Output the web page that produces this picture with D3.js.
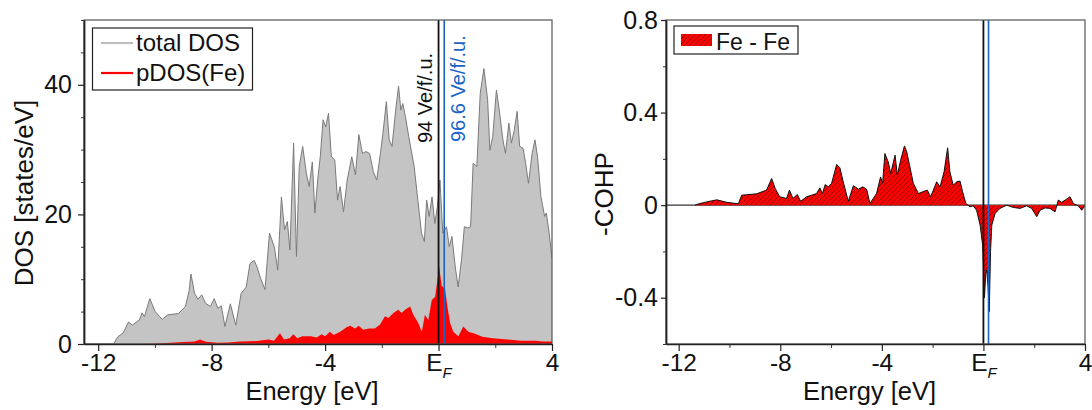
<!DOCTYPE html>
<html><head><meta charset="utf-8">
<script src="https://cdn.jsdelivr.net/npm/d3@7"></script>
<style>
body{margin:0;background:#fff;}
svg{display:block;font-family:"Liberation Sans",Arial,sans-serif;}
</style></head>
<body><svg id="c" width="1092" height="410"></svg>
<script>
// ---------- data ----------
const dosEnergy = [-12.5,-11.46,-11.31,-11.12,-10.93,-10.8,-10.55,-10.45,-10.37,-10.18,-9.99,-9.74,-9.55,-9.17,-8.92,-8.79,-8.73,-8.6,-8.48,-8.35,-8.22,-8.04,-7.91,-7.78,-7.66,-7.53,-7.34,-7.15,-6.96,-6.78,-6.65,-6.5,-6.4,-6.27,-6.12,-5.96,-5.79,-5.67,-5.54,-5.43,-5.33,-5.24,-5.11,-5.01,-4.91,-4.79,-4.66,-4.56,-4.45,-4.36,-4.26,-4.17,-4.07,-3.98,-3.88,-3.78,-3.66,-3.56,-3.47,-3.35,-3.22,-3.06,-2.93,-2.81,-2.68,-2.56,-2.43,-2.3,-2.18,-2.05,-1.96,-1.84,-1.74,-1.64,-1.51,-1.41,-1.33,-1.26,-1.17,-1.05,-0.86,-0.73,-0.6,-0.5,-0.42,-0.33,-0.23,-0.13,-0.04,0.05,0.15,0.28,0.38,0.47,0.59,0.69,0.81,0.91,1.03,1.13,1.22,1.35,1.47,1.6,1.73,1.81,1.91,2.04,2.14,2.27,2.36,2.48,2.57,2.67,2.77,2.86,2.98,3.07,3.17,3.3,3.4,3.49,3.61,3.74,3.8,3.9,4.0];
const totalDOS = [0,0,1.1,1.7,3.4,2.9,3.7,4.8,4.2,7.0,5.0,3.8,4.5,4.7,5.8,8.3,10.8,7.8,6.9,7.6,6.3,5.8,7.0,5.5,5.9,2.7,6.2,2.9,7.8,8.8,12.4,12.9,11.9,10.1,8.4,17.1,15.0,11.4,22.7,17.6,18.9,14.5,31.0,13.5,27.4,30.5,26.3,24.3,28.1,20.2,25.3,28.9,34.6,33.5,35.6,28.9,28.4,22.2,24.3,20.4,25.3,28.9,26.1,32.3,29.4,29.7,29.4,26.6,25.3,29.4,32.5,37.4,31.5,30.5,36.1,39.8,36.1,37.1,35.1,32.0,27.4,22.2,17.1,15.8,22.2,19.7,22.7,18.6,21.2,25.3,17.1,18.1,15.0,16.6,11.9,8.8,13.0,18.1,17.9,18.1,27.9,27.4,38.7,42.5,37.7,29.9,32.0,39.2,36.1,31.5,29.4,34.1,31.0,33.0,35.9,30.5,30.2,27.9,24.8,29.4,31.5,28.9,22.7,19.7,20.2,17.1,13.2];

const pdosEnergy = [-12.5,-10.6,-10.0,-9.6,-9.0,-8.6,-8.41,-8.2,-7.8,-7.4,-7.0,-6.4,-6.0,-5.8,-5.59,-5.45,-5.25,-5.12,-4.98,-4.8,-4.5,-4.3,-4.12,-4.0,-3.83,-3.7,-3.47,-3.24,-3.12,-2.94,-2.82,-2.65,-2.45,-2.25,-2.06,-1.89,-1.77,-1.59,-1.42,-1.3,-1.18,-1.0,-0.89,-0.71,-0.59,-0.48,-0.36,-0.24,-0.12,-0.04,0.02,0.11,0.23,0.31,0.41,0.52,0.7,0.87,1.05,1.29,1.54,1.91,2.42,2.92,3.43,3.68,4.0];
const pdosFe = [0,0,0.05,0.15,0.3,0.4,0.7,0.35,0.2,0.25,0.4,0.45,0.7,0.5,1.65,0.7,0.9,1.5,0.9,1.2,1.2,1.0,1.5,1.2,1.9,1.4,1.9,2.6,2.8,2.4,2.8,2.2,2.4,2.4,3.0,4.3,4.0,4.8,5.3,4.8,5.3,5.8,4.5,3.2,1.9,4.5,3.7,6.8,7.3,9.9,12.0,9.0,8.5,5.8,3.2,1.9,1.2,2.7,1.9,1.6,1.1,0.9,0.7,0.5,0.5,0.4,0.4];

const cohpEnergy = [-11.36,-11.2,-10.9,-10.5,-10.1,-9.65,-9.52,-8.93,-8.54,-8.34,-8.2,-8.02,-7.75,-7.64,-7.5,-7.33,-7.2,-6.96,-6.57,-6.44,-6.34,-6.23,-6.11,-5.98,-5.78,-5.65,-5.52,-5.32,-5.12,-4.92,-4.75,-4.6,-4.47,-4.21,-4.05,-3.97,-3.88,-3.75,-3.65,-3.48,-3.39,-3.26,-3.11,-3.02,-2.91,-2.76,-2.56,-2.39,-2.21,-2.08,-1.84,-1.71,-1.55,-1.41,-1.32,-1.19,-1.05,-0.92,-0.82,-0.69,-0.53,-0.4,-0.27,-0.13,-0.03,0.04,0.09,0.13,0.18,0.23,0.28,0.33,0.46,0.65,0.92,1.18,1.44,1.7,1.9,2.1,2.23,2.43,2.62,2.82,2.95,3.08,3.22,3.41,3.54,3.74,3.87,4.0];
const cohpFeFe = [0,0.006,0.014,0.023,0.012,0.006,0.043,0.049,0.065,0.115,0.072,0.036,0.029,0.065,0.029,0.046,0.017,0.036,0.05,0.075,0.05,0.089,0.079,0.094,0.176,0.161,0.1,0.017,0.084,0.069,0.079,0.069,0.007,0.05,0.122,0.094,0.223,0.187,0.137,0.216,0.13,0.194,0.256,0.23,0.173,0.094,0.05,0.058,0.065,0.036,0.101,0.079,0.144,0.248,0.144,0.086,0.101,0.104,0.058,0.007,-0.007,-0.003,-0.022,-0.086,-0.173,-0.40,-0.30,-0.28,-0.35,-0.46,-0.2,-0.086,-0.036,-0.014,0,-0.01,-0.014,-0.003,-0.014,-0.05,-0.022,-0.012,-0.014,-0.029,0.022,0.012,0.022,0.036,0.007,-0.003,-0.022,-0.003];

const energyTicks = [-12,-8,-4,0,4];
const energyTickLabels = ["-12","-8","-4","E","4"];
const energyMinorTicks = [-10,-6,-2,2];
const dosTicks = [0,20,40];
const dosTickLabels = ["0","20","40"];
const dosMinorTicks = [5,10,15,25,30,35,45,50];
const cohpTicks = [-0.4,0,0.4,0.8];
const cohpTickLabels = ["-0.4","0","0.4","0.8"];
const cohpMinorTicks = [-0.6,-0.2,0.2,0.6];
const fermiLines = [0, 0.2];           // black: 94 Ve/f.u., blue: 96.6 Ve/f.u.
const fermiLabels = ["94 Ve/f/.u.", "96.6 Ve/f/.u."];
const legendDOS = ["total DOS", "pDOS(Fe)"];
const legendCOHP = ["Fe - Fe"];

// ---------- drawing ----------
const svg = d3.select("#c");
const BLACK = "#111", BLUE = "#1a64c8", GREYF = "#c4c4c4", GREYL = "#7a7a7a", RED = "#ff0000";
const FONT = "Liberation Sans, Arial, sans-serif";

const defs = svg.append("defs");
const pat = defs.append("pattern").attr("id","hatch").attr("patternUnits","userSpaceOnUse")
  .attr("width",5).attr("height",5);
pat.append("rect").attr("width",5).attr("height",5).attr("fill",RED);
pat.append("path").attr("d","M0,5L5,0M-1,1L1,-1M4,6L6,4").attr("stroke","#5a0000").attr("stroke-width",0.6);

function xTickLabel(sel){
  sel.selectAll(".tick text").each(function(d){
    const t = d3.select(this);
    if(d===0){
      t.text(null);
      t.append("tspan").text("E");
      t.append("tspan").attr("font-size",15).attr("font-style","italic").attr("dy","0.45em").text("F");
    }
  });
}

function panel(opts){
  const g = svg.append("g");
  const x = d3.scaleLinear().domain([-12.5,4]).range([opts.x0,opts.x1]);
  const y = d3.scaleLinear().domain(opts.ydom).range([opts.y1,opts.y0]);
  const cid = "clip"+opts.id;
  defs.append("clipPath").attr("id",cid).append("rect")
    .attr("x",opts.x0).attr("y",opts.y0).attr("width",opts.x1-opts.x0).attr("height",opts.y1-opts.y0);
  const plot = g.append("g").attr("clip-path",`url(#${cid})`);
  return {g,x,y,plot};
}

function axes(p, opts){
  const {g,x,y} = p;
  g.append("rect").attr("x",opts.x0).attr("y",opts.y0).attr("width",opts.x1-opts.x0).attr("height",opts.y1-opts.y0)
    .attr("fill","none").attr("stroke","#555").attr("stroke-width",1.2);
  g.append("g").attr("transform",`translate(0,${opts.y1})`)
    .call(d3.axisBottom(x).tickValues(energyMinorTicks).tickSize(4).tickSizeOuter(0).tickFormat(""))
    .call(s=>s.select(".domain").remove())
    .call(s=>s.selectAll("line").attr("stroke","#333"));
  const xa = g.append("g").attr("transform",`translate(0,${opts.y1})`)
    .call(d3.axisBottom(x).tickValues(energyTicks).tickSize(7).tickSizeOuter(0).tickPadding(3)
      .tickFormat((d,i)=>energyTickLabels[i]));
  xa.select(".domain").attr("stroke","#222").attr("stroke-width",1.5);
  xa.selectAll("line").attr("stroke","#222").attr("stroke-width",1.2);
  xa.selectAll("text").attr("font-size",24.5).attr("fill",BLACK).attr("font-family",FONT);
  xa.call(xTickLabel);
  g.append("g").attr("transform",`translate(${opts.x0},0)`)
    .call(d3.axisLeft(y).tickValues(opts.yminor).tickSize(3).tickSizeOuter(0).tickFormat(""))
    .call(s=>s.select(".domain").remove())
    .call(s=>s.selectAll("line").attr("stroke","#333"));
  const ya = g.append("g").attr("transform",`translate(${opts.x0},0)`)
    .call(d3.axisLeft(y).tickValues(opts.ymajor).tickSize(opts.ytick).tickSizeOuter(0).tickPadding(opts.ypad)
      .tickFormat((d,i)=>opts.ylabels[i]));
  ya.select(".domain").attr("stroke","#222").attr("stroke-width",1.8);
  ya.selectAll("line").attr("stroke","#222").attr("stroke-width",1.2);
  ya.selectAll("text").attr("font-size",25).attr("fill",BLACK).attr("font-family",FONT);
  g.append("text").attr("x",(opts.x0+opts.x1)/2 - 6).attr("y",400).attr("text-anchor","middle")
    .attr("font-size",25.5).attr("fill",BLACK).text("Energy [eV]");
  g.append("text").attr("transform",`translate(${opts.ytx},${opts.yty}) rotate(-90)`).attr("text-anchor","middle")
    .attr("font-size",26).attr("fill",BLACK).text(opts.ytitle);
}

// ----- left panel: DOS -----
const L = {id:"L",x0:84,x1:552,y0:20,y1:344,ydom:[0,50]};
const pL = panel(L);
const dosPts = dosEnergy.map((e,i)=>[e,totalDOS[i]]);
const pdosPts = pdosEnergy.map((e,i)=>[e,pdosFe[i]]);
pL.plot.append("path").datum(dosPts)
  .attr("d",d3.area().x(d=>pL.x(d[0])).y0(pL.y(0)).y1(d=>pL.y(d[1])))
  .attr("fill",GREYF);
pL.plot.append("path").datum(dosPts)
  .attr("d",d3.line().x(d=>pL.x(d[0])).y(d=>pL.y(d[1])))
  .attr("fill","none").attr("stroke",GREYL).attr("stroke-width",1);
pL.plot.append("path").datum(pdosPts)
  .attr("d",d3.area().x(d=>pL.x(d[0])).y0(pL.y(0)).y1(d=>pL.y(d[1])))
  .attr("fill",RED);
fermiLines.forEach((e,i)=>{
  pL.plot.append("line").attr("x1",pL.x(e)).attr("x2",pL.x(e)).attr("y1",L.y0).attr("y2",L.y1)
    .attr("stroke",i===0?BLACK:BLUE).attr("stroke-width",i===0?1.8:1.6);
});
pL.g.append("text").attr("transform",`translate(${pL.x(fermiLines[0])-7},143) rotate(-90)`)
  .attr("font-size",20).attr("fill",BLACK).text(fermiLabels[0]);
pL.g.append("text").attr("transform",`translate(${pL.x(fermiLines[1])+21},142) rotate(-90)`)
  .attr("font-size",20).attr("fill",BLUE).text(fermiLabels[1]);
axes(pL,{...L,ymajor:dosTicks,ylabels:dosTickLabels,yminor:dosMinorTicks,ytick:6,ypad:6,ytx:33,yty:193,ytitle:"DOS [states/eV]"});
const lg = pL.g.append("g");
lg.append("rect").attr("x",92.5).attr("y",28).attr("width",160).attr("height",62)
  .attr("fill","#fff").attr("stroke","#222").attr("stroke-width",1.2);
[["#bdbdbd",43,51],[RED,73,81]].forEach((c,i)=>{
  lg.append("line").attr("x1",101).attr("x2",133).attr("y1",c[1]).attr("y2",c[1]).attr("stroke",c[0]).attr("stroke-width",2.2);
  lg.append("text").attr("x",136).attr("y",c[2]).attr("font-size",24).attr("fill",BLACK).text(legendDOS[i]);
});

// ----- right panel: COHP -----
const R = {id:"R",x0:666,x1:1085,y0:20,y1:344,ydom:[-0.6,0.8]};
const pR = panel(R);
const cohpPts = cohpEnergy.map((e,i)=>[e,cohpFeFe[i]]);
pR.plot.append("line").attr("x1",R.x0).attr("x2",R.x1).attr("y1",pR.y(0)).attr("y2",pR.y(0))
  .attr("stroke","#333").attr("stroke-width",1.3);
pR.plot.append("path").datum(cohpPts)
  .attr("d",d3.area().x(d=>pR.x(d[0])).y0(pR.y(0)).y1(d=>pR.y(d[1])))
  .attr("fill","url(#hatch)");
pR.plot.append("path").datum(cohpPts)
  .attr("d",d3.line().x(d=>pR.x(d[0])).y(d=>pR.y(d[1])))
  .attr("fill","none").attr("stroke","#111").attr("stroke-width",1);
fermiLines.forEach((e,i)=>{
  pR.plot.append("line").attr("x1",pR.x(e)).attr("x2",pR.x(e)).attr("y1",R.y0).attr("y2",R.y1)
    .attr("stroke",i===0?BLACK:BLUE).attr("stroke-width",i===0?1.8:1.6);
});
axes(pR,{...R,ymajor:cohpTicks,ylabels:cohpTickLabels,yminor:cohpMinorTicks,ytick:5,ypad:3,ytx:613,yty:194,ytitle:"-COHP"});
const lr = pR.g.append("g");
lr.append("rect").attr("x",674).attr("y",26).attr("width",124).attr("height",28)
  .attr("fill","#fff").attr("stroke","#222").attr("stroke-width",1.2);
lr.append("rect").attr("x",681).attr("y",34).attr("width",31).attr("height",12).attr("fill","url(#hatch)");
lr.append("text").attr("x",716).attr("y",50).attr("font-size",23).attr("fill",BLACK).text(legendCOHP[0]);
</script></body></html>
